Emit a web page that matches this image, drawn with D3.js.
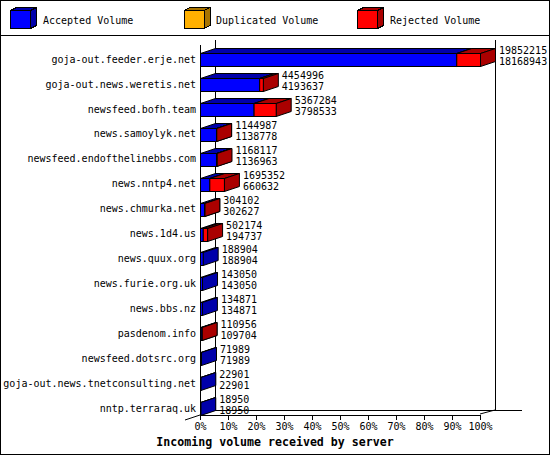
<!DOCTYPE html>
<html>
<head>
<meta charset="utf-8">
<script src="https://cdn.jsdelivr.net/npm/d3@7"></script>
<style>
  body { margin: 0; background: #fff; }
  svg { display: block; }
  text { font-family: "DejaVu Sans Mono", monospace; font-size: 10px; fill: #000; }
</style>
</head>
<body>
<svg id="chart" width="550" height="455"></svg>
<script>
// servers feeding us, top to bottom
let hosts = [
  "goja-out.feeder.erje.net",
  "goja-out.news.weretis.net",
  "newsfeed.bofh.team",
  "news.samoylyk.net",
  "newsfeed.endofthelinebbs.com",
  "news.nntp4.net",
  "news.chmurka.net",
  "news.1d4.us",
  "news.quux.org",
  "news.furie.org.uk",
  "news.bbs.nz",
  "pasdenom.info",
  "newsfeed.dotsrc.org",
  "goja-out.news.tnetconsulting.net",
  "nntp.terraraq.uk"
];

// total offered volume (top number)
let offered = [19852215, 4454996, 5367284, 1144987, 1168117, 1695352, 304102,
  502174, 188904, 143050, 134871, 110956, 71989, 22901, 18950];

// accepted volume (bottom number)
let accepted = [18168943, 4193637, 3798533, 1138778, 1136963, 660632, 302627,
  194737, 188904, 143050, 134871, 109704, 71989, 22901, 18950];

// duplicated volume: none this period
let duplicated = [0, 0, 0, 0, 0, 0, 0, 0, 0, 0, 0, 0, 0, 0, 0];

let legendNames = ["Accepted Volume", "Duplicated Volume", "Rejected Volume"];

let colors = [
  {face: "#0000ff", shade: "#0000aa"},
  {face: "#ffb000", shade: "#a87400"},
  {face: "#ff0000", shade: "#aa0000"}
];

let W = 550, H = 455;
let depth = {x: 15, y: 5};
let maxTotal = d3.max(offered);

const svg = d3.select("#chart");

let x = d3.scaleLinear().domain([0, 1]).range([200, 480]);
let y = d3.scaleBand().domain(hosts).range([53, 415]).paddingInner(0.48).paddingOuter(0);

// outer frame + legend separator
svg.append("rect")
   .attr("x", 0.5).attr("y", 0.5)
   .attr("width", W - 1).attr("height", H - 1)
   .attr("fill", "white").attr("stroke", "black");

svg.append("line")
   .attr("x1", 0).attr("x2", W)
   .attr("y1", 35.5).attr("y2", 35.5)
   .attr("stroke", "black");

// legend with little cubes
function cube(g, x0, y0, w, h, c) {
  const dx = 6, dy = 3;
  g.append("path")
   .attr("d", `M${x0},${y0}L${x0 + dx},${y0 - dy}L${x0 + w + dx},${y0 - dy}L${x0 + w},${y0}Z`)
   .attr("fill", c.shade).attr("stroke", "black");
  g.append("path")
   .attr("d", `M${x0 + w},${y0}L${x0 + w + dx},${y0 - dy}L${x0 + w + dx},${y0 + h - dy}L${x0 + w},${y0 + h}Z`)
   .attr("fill", c.shade).attr("stroke", "black");
  g.append("rect")
   .attr("x", x0).attr("y", y0).attr("width", w).attr("height", h)
   .attr("fill", c.face).attr("stroke", "black");
}

const legend = svg.append("g").attr("shape-rendering", "crispEdges");
legendNames.forEach((name, i) => {
  let lx = 10.5 + i * 173.5;
  cube(legend, lx, 10.5, 20, 18, colors[i]);
  svg.append("text")
     .attr("x", Math.round(lx) + 32)
     .attr("y", 20)
     .attr("dy", "0.35em")
     .text(name);
});

// back wall and floor
const frame = svg.append("g")
   .attr("stroke", "black")
   .attr("fill", "none")
   .attr("shape-rendering", "crispEdges");

let backTop = 40, backBottom = 410, frontTop = 45, frontBottom = 415;

frame.append("line")
   .attr("x1", x(0) + depth.x + 0.5).attr("x2", x(0) + depth.x + 0.5)
   .attr("y1", backTop).attr("y2", backBottom);
frame.append("line")
   .attr("x1", x(1) + depth.x + 0.5).attr("x2", x(1) + depth.x + 0.5)
   .attr("y1", backTop).attr("y2", backBottom);
frame.append("line")
   .attr("x1", x(0) + depth.x).attr("x2", 522)
   .attr("y1", backBottom + 0.5).attr("y2", backBottom + 0.5);
frame.append("line")
   .attr("x1", x(0) - depth.x).attr("y1", frontBottom + 5)
   .attr("x2", x(0) + depth.x).attr("y2", backBottom)
   .attr("shape-rendering", "auto");
frame.append("line")
   .attr("x1", x(1)).attr("y1", frontBottom - 1)
   .attr("x2", x(1) + depth.x).attr("y2", backBottom)
   .attr("shape-rendering", "auto");

// bars
const bars = svg.append("g")
   .attr("stroke", "black")
   .attr("stroke-width", 1)
   .attr("stroke-linejoin", "miter");

function box(g, x0, x1, y0, h, c) {
  const dx = depth.x, dy = depth.y;
  g.append("path")
   .attr("d", `M${x0},${y0}L${x0 + dx},${y0 - dy}L${x1 + dx},${y0 - dy}L${x1},${y0}Z`)
   .attr("fill", c.shade);
  g.append("path")
   .attr("d", `M${x1},${y0}L${x1 + dx},${y0 - dy}L${x1 + dx},${y0 + h - dy}L${x1},${y0 + h}Z`)
   .attr("fill", c.shade);
  g.append("rect")
   .attr("x", x0).attr("y", y0)
   .attr("width", Math.max(0, x1 - x0)).attr("height", h)
   .attr("fill", c.face);
}

hosts.forEach((h, i) => {
  let y0 = Math.round(y(h)) + 0.5;
  let bh = Math.round(y.bandwidth());
  let acc = accepted[i] / maxTotal;
  let dup = (accepted[i] + duplicated[i]) / maxTotal;
  let tot = offered[i] / maxTotal;
  let x0 = x(0) + 0.5;
  let xa = x(acc) + 0.5;
  let xd = x(dup) + 0.5;
  let xt = x(tot) + 0.5;
  const g = bars.append("g");
  box(g, x0, xa, y0, bh, colors[0]);
  if (duplicated[i] > 0) box(g, xa, xd, y0, bh, colors[1]);
  if (offered[i] > accepted[i] + duplicated[i]) box(g, xd, xt, y0, bh, colors[2]);

  svg.append("text")
     .attr("x", x(tot) + depth.x + 4)
     .attr("y", y0 - 3)
     .attr("dy", "0.35em")
     .text(offered[i]);
  svg.append("text")
     .attr("x", x(tot) + depth.x + 4)
     .attr("y", y0 + 8)
     .attr("dy", "0.35em")
     .text(accepted[i]);
});

// front y axis line
svg.append("line")
   .attr("x1", x(0) + 0.5).attr("x2", x(0) + 0.5)
   .attr("y1", frontTop).attr("y2", frontBottom)
   .attr("stroke", "black")
   .attr("shape-rendering", "crispEdges");

// category labels
svg.append("g")
   .attr("transform", `translate(${x(0)},0)`)
   .call(d3.axisLeft(y).tickSize(0).tickPadding(4))
   .call(g => g.select(".domain").remove())
   .call(g => g.selectAll("text")
              .attr("font-family", "DejaVu Sans Mono")
              .attr("font-size", 10)
              .attr("fill", "black"));

// percentage axis
svg.append("g")
   .attr("transform", `translate(0,${frontBottom - 0.5})`)
   .attr("shape-rendering", "crispEdges")
   .call(d3.axisBottom(x).ticks(10).tickFormat(d3.format(".0%")).tickSize(5).tickSizeOuter(0).tickPadding(3))
   .call(g => g.selectAll("line, path").attr("stroke", "black"))
   .call(g => g.selectAll("text")
              .attr("font-family", "DejaVu Sans Mono")
              .attr("font-size", 10)
              .attr("fill", "black"));

svg.append("text")
   .attr("x", W / 2)
   .attr("y", 442)
   .attr("dy", "0.35em")
   .attr("text-anchor", "middle")
   .style("font-weight", "bold")
   .style("font-size", "11.6px")
   .text("Incoming volume received by server");
</script>
</body>
</html>
